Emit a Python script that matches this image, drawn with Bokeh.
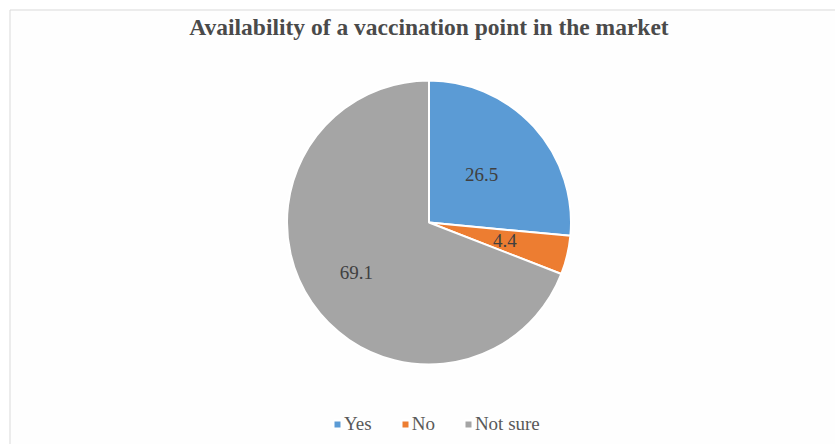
import math
from bokeh.plotting import figure
from bokeh.models import Range1d, Legend, LegendItem, ColumnDataSource
from bokeh.core.properties import value
from bokeh.embed import file_html
from bokeh.resources import INLINE

title_text = "Availability of a vaccination point in the market"
categories = ["Yes", "No", "Not sure"]
shares = [26.5, 4.4, 69.1]
colors = ["#5B9BD5", "#ED7D31", "#A5A5A5"]

W, H = 835, 444
CX, CY, R = 428.5, 222, 142
label_frac = [0.50, 0.55, 0.62]

total = sum(shares)
starts, ends, lx, ly, texts = [], [], [], [], []
acc = 0.0
for v, f in zip(shares, label_frac):
    a0 = math.pi / 2 - 2 * math.pi * acc / total
    a1 = math.pi / 2 - 2 * math.pi * (acc + v) / total
    starts.append(a1)
    ends.append(a0)
    mid = (a0 + a1) / 2
    lx.append(CX + f * R * math.cos(mid))
    ly.append(CY + f * R * math.sin(mid))
    texts.append(f"{v:.1f}")
    acc += v

src = ColumnDataSource(dict(cat=categories, start=starts, end=ends, color=colors,
                            x=[CX] * 3, y=[CY] * 3))

p = figure(width=W, height=H, x_range=Range1d(0, W), y_range=Range1d(0, H),
           output_backend="svg", toolbar_location=None, min_border=0)
p.xaxis.visible = False
p.yaxis.visible = False
p.grid.visible = False
p.outline_line_color = None
p.background_fill_color = "white"
p.border_fill_color = "white"

# chart frame
p.quad(left=[9.5], right=[W + 5], bottom=[-5], top=[H - 9.5],
       fill_color="#FEFEFE", line_color="#D9D9D9", line_width=1)

r = p.wedge(x="x", y="y", radius=R, start_angle="start", end_angle="end",
            fill_color="color", line_color="white", line_width=2, source=src)

p.text(x=lx, y=ly, text=texts, text_align="center", text_baseline="middle",
       text_font=value("Liberation Serif"), text_font_size="19px",
       text_color="#404040")

p.text(x=[W / 2 + 11], y=[H - 26], text=[title_text], text_align="center",
       text_baseline="middle", text_font=value("Liberation Serif"),
       text_font_style="bold", text_font_size="23.5px", text_color="#4A4A4A")

items = [LegendItem(label=c, renderers=[r], index=i) for i, c in enumerate(categories)]
legend = Legend(items=items, orientation="horizontal", location=(332, 9),
                glyph_width=10, glyph_height=10, label_standoff=2, spacing=28,
                label_text_font="Liberation Serif", label_text_font_size="19px",
                label_text_color="#595959", padding=0, margin=0,
                border_line_alpha=0, background_fill_alpha=0)
p.add_layout(legend, "center")

open("out.html", "w").write(file_html(p, INLINE))
